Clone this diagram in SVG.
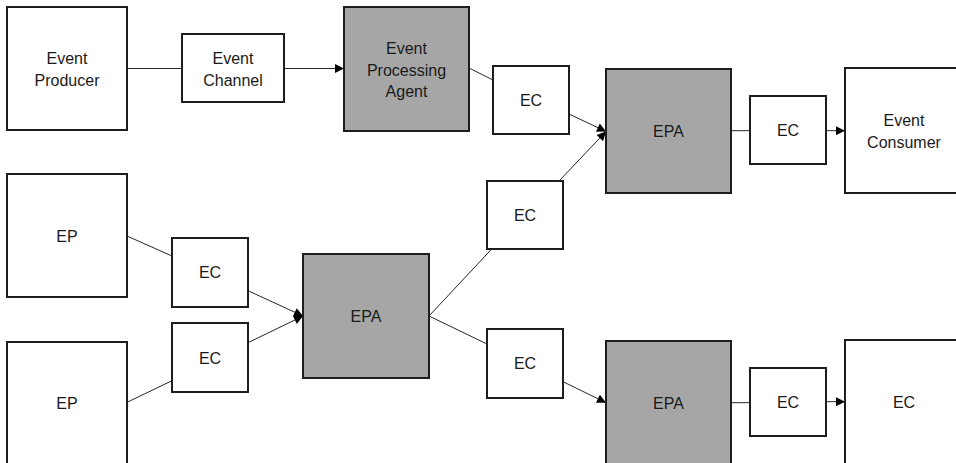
<svg xmlns="http://www.w3.org/2000/svg" width="956" height="463" viewBox="0 0 956 463">
  <style>
    .box { fill: #ffffff; stroke: #1e1e1e; stroke-width: 2; }
    .agent { fill: #a6a6a6; stroke: #1e1e1e; stroke-width: 2; }
    .lbl { font-family: "Liberation Sans", Arial, sans-serif; font-size: 16px; fill: #1a1a1a; text-anchor: middle; }
    .wire { stroke: #262626; stroke-width: 1; fill: none; }
    .head { marker-end: url(#arrow); }
  </style>
  <defs>
    <marker id="arrow" viewBox="0 0 10 10" refX="10" refY="5" markerWidth="10" markerHeight="9" markerUnits="userSpaceOnUse" orient="auto">
      <path d="M0,0 L10,5 L0,10 z" fill="#000000"/>
    </marker>
  </defs>

  <rect width="956" height="463" fill="#ffffff"/>

  <!-- connectors -->
  <g id="connectors">
    <line class="wire" x1="127" y1="68.5" x2="182" y2="68.5"/>
    <line class="wire head" x1="284" y1="68.5" x2="344" y2="68.5"/>
    <line class="wire" x1="469" y1="68" x2="493" y2="80"/>
    <line class="wire head" x1="569" y1="114" x2="606" y2="131.5"/>
    <line class="wire head" x1="559" y1="181" x2="606" y2="131.5"/>
    <line class="wire" x1="731" y1="130.7" x2="750" y2="130.7"/>
    <line class="wire head" x1="826" y1="130.7" x2="845" y2="130.7"/>
    <line class="wire" x1="127" y1="236" x2="172" y2="256"/>
    <line class="wire head" x1="248" y1="290.7" x2="303" y2="316"/>
    <line class="wire" x1="127" y1="402.3" x2="172" y2="380.7"/>
    <line class="wire head" x1="248" y1="342.7" x2="303" y2="316"/>
    <line class="wire" x1="429" y1="316" x2="491.7" y2="249"/>
    <line class="wire" x1="429" y1="316" x2="487" y2="344"/>
    <line class="wire head" x1="563" y1="381.7" x2="606" y2="402.7"/>
    <line class="wire" x1="731" y1="402.7" x2="750" y2="402.7"/>
    <line class="wire head" x1="826" y1="401.7" x2="845" y2="401.7"/>
  </g>

  <!-- top row -->
  <g id="producer">
    <rect class="box" x="7" y="7" width="120" height="123"/>
    <text class="lbl" x="67" y="64">Event</text>
    <text class="lbl" x="67" y="86">Producer</text>
  </g>
  <g id="channel">
    <rect class="box" x="182" y="34" width="102" height="68"/>
    <text class="lbl" x="233" y="64">Event</text>
    <text class="lbl" x="233" y="86">Channel</text>
  </g>
  <g id="agent-top">
    <rect class="agent" x="344" y="7" width="125" height="124"/>
    <text class="lbl" x="406.5" y="53.5">Event</text>
    <text class="lbl" x="406.5" y="75.5">Processing</text>
    <text class="lbl" x="406.5" y="97">Agent</text>
  </g>
  <g id="ec-top">
    <rect class="box" x="493" y="66" width="76" height="68"/>
    <text class="lbl" x="531" y="106">EC</text>
  </g>
  <g id="epa-right">
    <rect class="agent" x="606" y="69" width="125" height="124"/>
    <text class="lbl" x="668.5" y="137">EPA</text>
  </g>
  <g id="ec-right">
    <rect class="box" x="750" y="96" width="76" height="68"/>
    <text class="lbl" x="788" y="136">EC</text>
  </g>
  <g id="consumer">
    <rect class="box" x="845" y="68" width="118" height="125"/>
    <text class="lbl" x="904" y="126">Event</text>
    <text class="lbl" x="904" y="148">Consumer</text>
  </g>

  <!-- lower part -->
  <g id="ep-upper">
    <rect class="box" x="7" y="174" width="120" height="123"/>
    <text class="lbl" x="67" y="241.5">EP</text>
  </g>
  <g id="ep-lower">
    <rect class="box" x="7" y="342" width="120" height="124"/>
    <text class="lbl" x="67" y="409">EP</text>
  </g>
  <g id="ec-left-upper">
    <rect class="box" x="172" y="238" width="76" height="69"/>
    <text class="lbl" x="210" y="278">EC</text>
  </g>
  <g id="ec-left-lower">
    <rect class="box" x="172" y="323" width="76" height="69"/>
    <text class="lbl" x="210" y="364">EC</text>
  </g>
  <g id="epa-center">
    <rect class="agent" x="303" y="254" width="126" height="124"/>
    <text class="lbl" x="366" y="321.5">EPA</text>
  </g>
  <g id="ec-mid-upper">
    <rect class="box" x="487" y="181" width="76" height="68"/>
    <text class="lbl" x="525" y="220.5">EC</text>
  </g>
  <g id="ec-mid-lower">
    <rect class="box" x="487" y="329" width="76" height="69"/>
    <text class="lbl" x="525" y="369">EC</text>
  </g>
  <g id="epa-bottom">
    <rect class="agent" x="606" y="341" width="125" height="125"/>
    <text class="lbl" x="668.5" y="408.5">EPA</text>
  </g>
  <g id="ec-bottom">
    <rect class="box" x="750" y="368" width="76" height="68"/>
    <text class="lbl" x="788" y="407.5">EC</text>
  </g>
  <g id="ec-sink">
    <rect class="box" x="845" y="340" width="118" height="126"/>
    <text class="lbl" x="904" y="407.5">EC</text>
  </g>
</svg>
